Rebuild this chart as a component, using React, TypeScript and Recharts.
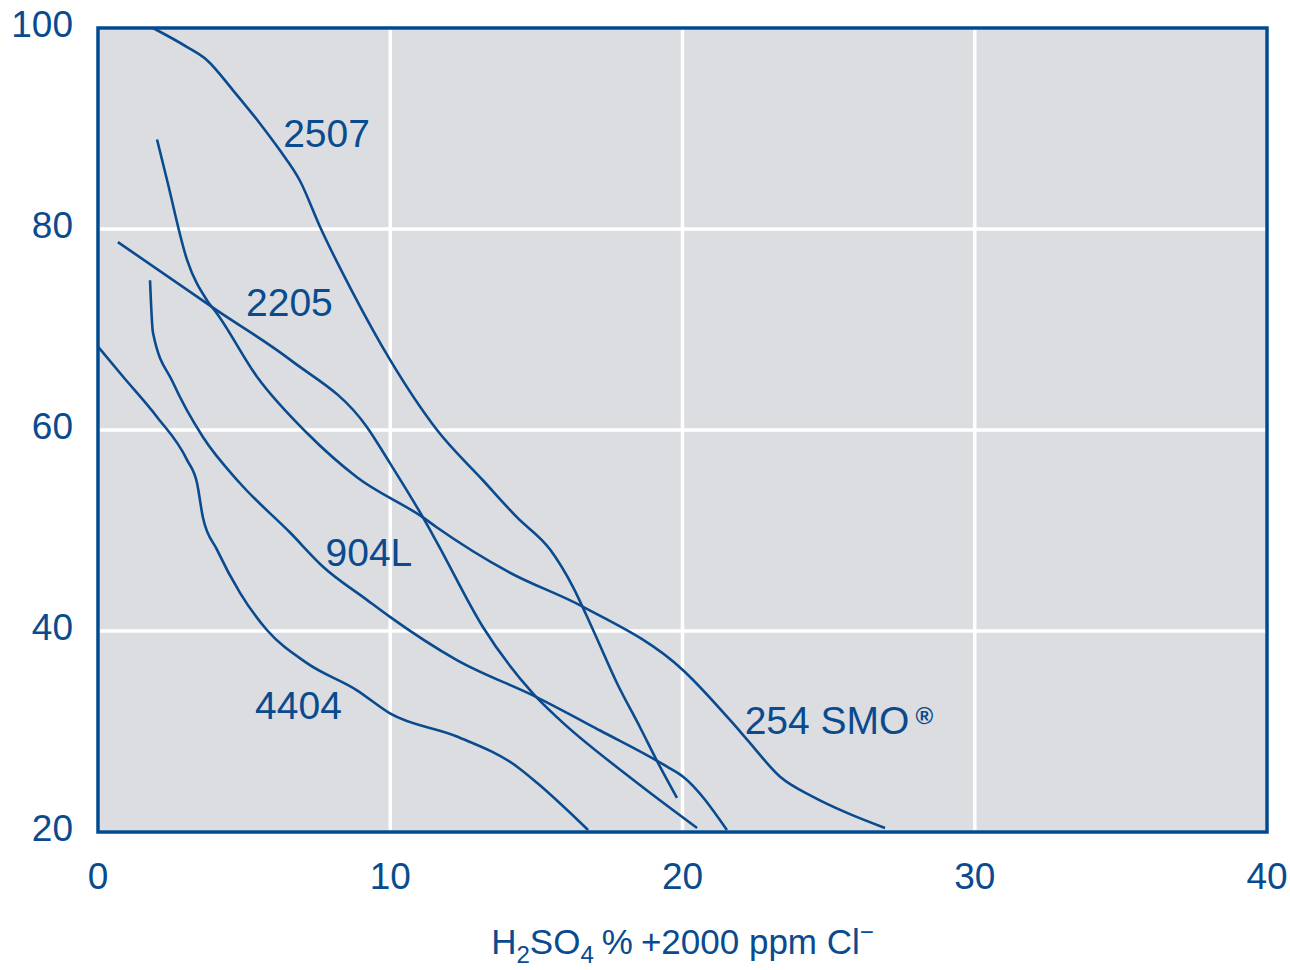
import React from "react"
import { CartesianGrid, Line, LineChart, ReferenceArea, ReferenceDot, XAxis, YAxis } from "recharts"

type Pt = { x: number, y: number }

const xTicks = [0, 10, 20, 30, 40]
const yTicks = [20, 40, 60, 80, 100]

const alloy2507: Pt[] = [
    { x: 1.88, y: 100 }, { x: 3.05, y: 98.1 }, { x: 3.73, y: 96.8 }, { x: 4.62, y: 93.8 },
    { x: 5.54, y: 90.5 }, { x: 6.23, y: 87.8 }, { x: 6.91, y: 84.8 }, { x: 7.6, y: 80.2 },
    { x: 8.73, y: 73.6 }, { x: 9.99, y: 67.0 }, { x: 11.6, y: 60.0 }, { x: 13.17, y: 55.0 },
    { x: 14.34, y: 51.3 }, { x: 15.47, y: 48.1 }, { x: 16.25, y: 44.4 }, { x: 16.94, y: 40.1 },
    { x: 17.76, y: 34.8 }, { x: 18.55, y: 30.4 }, { x: 19.23, y: 26.5 }, { x: 19.81, y: 23.4 },
]

const smo254: Pt[] = [
    { x: 2.02, y: 88.9 }, { x: 2.36, y: 84.9 }, { x: 3.05, y: 76.9 }, { x: 3.73, y: 72.9 },
    { x: 4.07, y: 71.6 }, { x: 5.44, y: 65.3 }, { x: 7.15, y: 59.7 }, { x: 8.86, y: 55.3 },
    { x: 11.12, y: 51.3 }, { x: 11.6, y: 50.3 }, { x: 14.03, y: 45.9 }, { x: 16.6, y: 42.4 },
    { x: 20.02, y: 36.1 }, { x: 21.73, y: 30.8 }, { x: 22.21, y: 29.2 }, { x: 23.34, y: 25.5 },
    { x: 24.47, y: 23.5 }, { x: 25.63, y: 21.9 }, { x: 26.93, y: 20.4 },
]

const alloy2205: Pt[] = [
    { x: 0.68, y: 78.7 }, { x: 4.07, y: 71.9 }, { x: 6.57, y: 67.0 }, { x: 9.2, y: 60.3 },
    { x: 9.99, y: 56.7 }, { x: 11.12, y: 51.3 }, { x: 11.6, y: 48.8 }, { x: 13.17, y: 40.4 },
    { x: 14.88, y: 33.8 }, { x: 15.71, y: 31.4 }, { x: 18.31, y: 25.2 }, { x: 20.5, y: 20.4 },
]

const alloy904L: Pt[] = [
    { x: 1.78, y: 74.9 }, { x: 1.88, y: 69.7 }, { x: 2.57, y: 64.7 }, { x: 3.59, y: 59.3 },
    { x: 4.86, y: 54.7 }, { x: 6.57, y: 49.8 }, { x: 7.7, y: 46.4 }, { x: 9.2, y: 43.1 },
    { x: 9.99, y: 41.4 }, { x: 12.28, y: 37.1 }, { x: 15.02, y: 33.4 }, { x: 17.18, y: 30.1 },
    { x: 19.47, y: 26.5 }, { x: 20.02, y: 25.5 }, { x: 21.52, y: 20.2 },
]

const alloy4404: Pt[] = [
    { x: 0, y: 68.3 }, { x: 0.86, y: 65.3 }, { x: 2.02, y: 61.3 }, { x: 3.05, y: 57.0 },
    { x: 3.39, y: 54.7 }, { x: 3.59, y: 51.3 }, { x: 4.07, y: 48.1 }, { x: 4.86, y: 43.8 },
    { x: 5.78, y: 40.1 }, { x: 7.15, y: 36.8 }, { x: 8.86, y: 34.1 }, { x: 9.99, y: 31.8 },
    { x: 12.28, y: 29.5 }, { x: 14.34, y: 26.5 }, { x: 15.02, y: 24.9 }, { x: 16.77, y: 20.2 },
]

const curves = [alloy2507, smo254, alloy2205, alloy904L, alloy4404]

const curveLabels = [
    { text: "2507", x: 7.82, y: 89.6 },
    { text: "2205", x: 6.55, y: 72.7 },
    { text: "904L", x: 9.27, y: 47.9 },
    { text: "4404", x: 6.86, y: 32.6 },
    { text: "254 SMO", x: 25.35, y: 31.1, mark: "®" },
]

const BLUE = "#0a4a8e"
const FONT = "'Liberation Sans', Arial, sans-serif"

const CurveLabel = (props: any) => {
    const { viewBox, text, mark } = props
    const cx = viewBox.x + viewBox.width / 2
    const cy = viewBox.y + viewBox.height / 2
    return <text x={cx} y={cy} dy="0.36em" textAnchor="middle" fill={BLUE} fontSize={39} fontFamily={FONT}>
        {text}
        {mark && <tspan fontSize={24} fontWeight="bold" dx={6} dy={-10}>{mark}</tspan>}
    </text>
}

const AxisTitle = (props: any) => {
    const { viewBox } = props
    const cx = viewBox.x + viewBox.width / 2
    return <text x={cx} y={viewBox.y + 122} textAnchor="middle" fill={BLUE} fontSize={35} fontFamily={FONT}>
        H<tspan fontSize={24} dy={9}>2</tspan><tspan dy={-9}>SO</tspan><tspan fontSize={24} dy={9}>4</tspan>
        <tspan dy={-9} dx={8}>%</tspan><tspan dx={8}>+2000 ppm Cl</tspan><tspan fontSize={24} dy={-14}>−</tspan>
    </text>
}

const App = () => {
    return <div style={{ width: 1290, height: 970, overflow: "hidden" }}>
        <style>{"body{margin:0}"}</style>
        <LineChart width={1290} height={970} margin={{ top: 28, right: 23, bottom: 0, left: 0 }}>
            <CartesianGrid fill="#dcdde0" stroke="#ffffff" strokeWidth={3.5} strokeOpacity={1} />
            <XAxis dataKey="x" type="number" domain={[0, 40]} ticks={xTicks} height={138}
                axisLine={false} tickLine={false} tickSize={0} tickMargin={31}
                tick={{ fill: BLUE, fontSize: 37, fontFamily: FONT }} allowDuplicatedCategory={false}
                label={<AxisTitle />} />
            <YAxis type="number" domain={[20, 100]} ticks={yTicks} width={98}
                axisLine={false} tickLine={false} tickSize={0} tickMargin={25}
                tick={{ fill: BLUE, fontSize: 37, fontFamily: FONT, dy: -4 }} />
            {curves.map((d, i) =>
                <Line key={i} data={d} dataKey="y" type="monotone" stroke={BLUE} strokeWidth={2.6}
                    dot={false} activeDot={false} isAnimationActive={false} />
            )}
            {curveLabels.map((l, i) =>
                <ReferenceDot key={"l" + i} x={l.x} y={l.y} r={1} fill="none" stroke="none"
                    label={<CurveLabel text={l.text} mark={l.mark} />} />
            )}
            <ReferenceArea x1={0} x2={40} y1={20} y2={100} fill="none" stroke="#004a91" strokeWidth={3.5} />
        </LineChart>
    </div>
}

export default App
